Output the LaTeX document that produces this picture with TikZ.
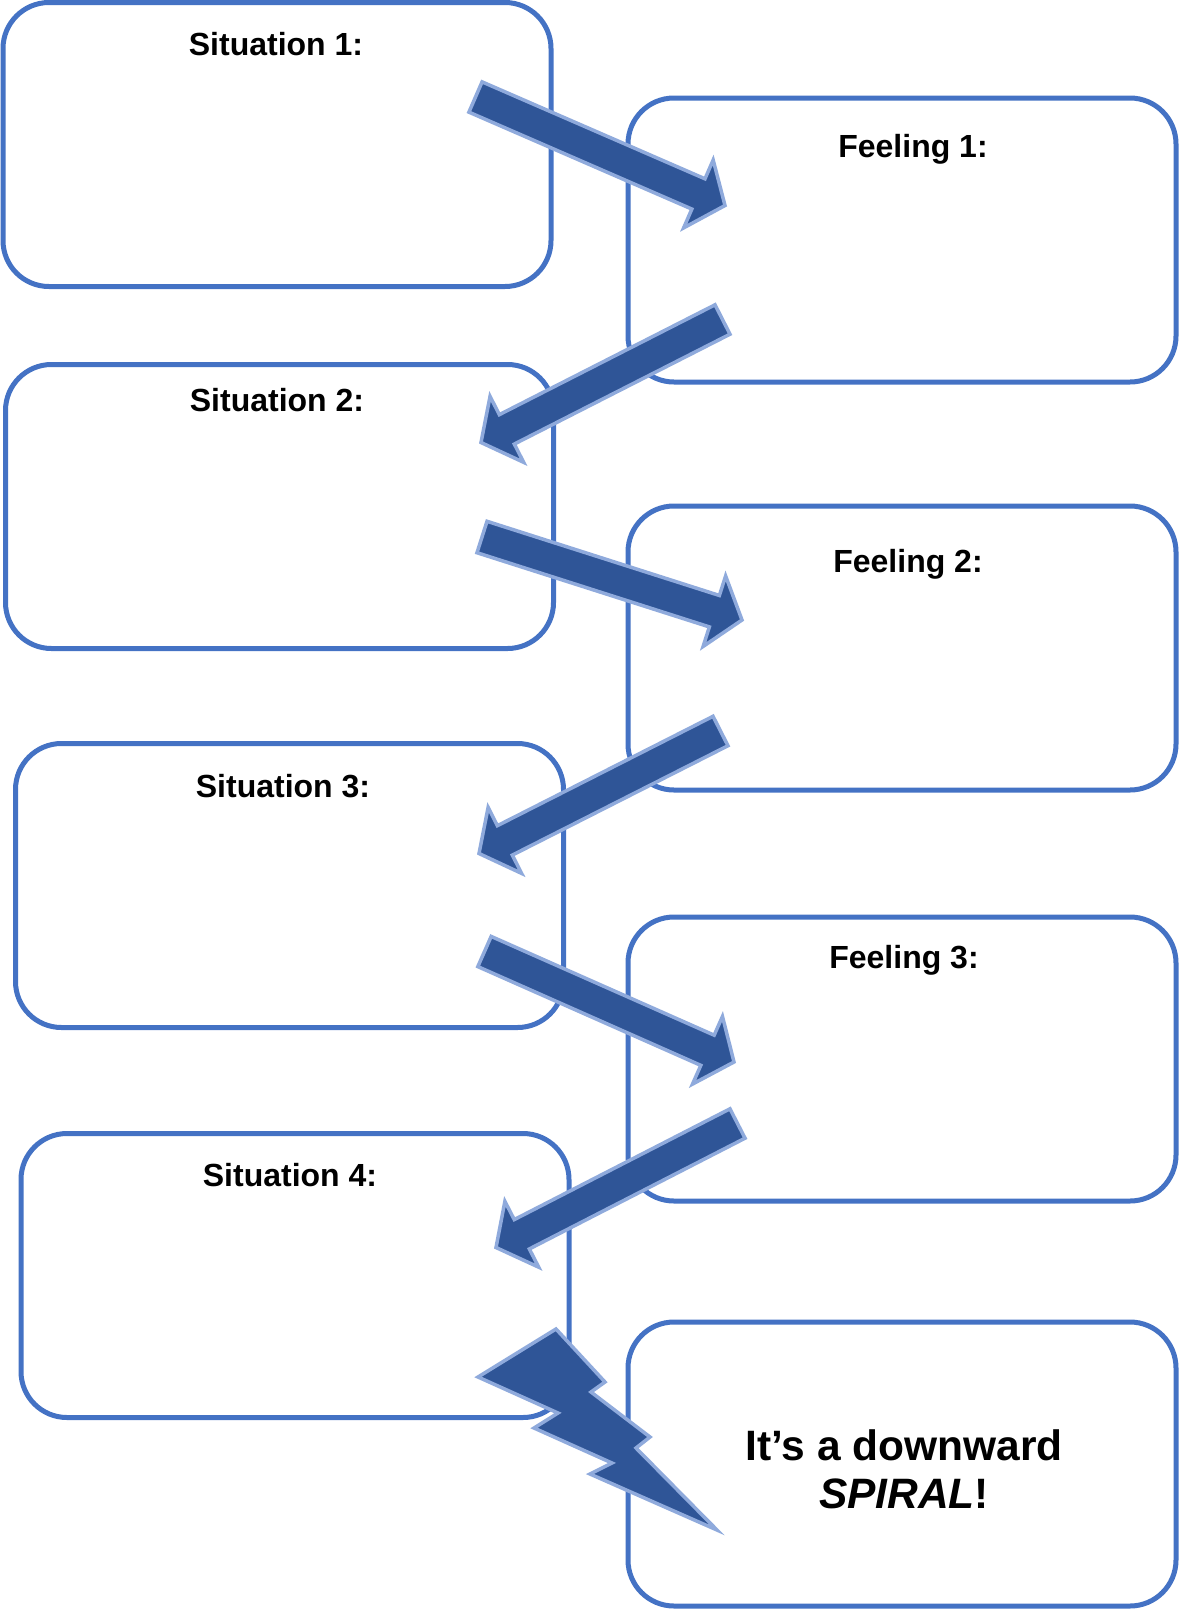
\documentclass[tikz,border=0pt]{standalone}
\usepackage{fontspec}
\setmainfont{Liberation Sans}
\usetikzlibrary{calc}

\definecolor{boxblue}{HTML}{4472C4}
\definecolor{arrowfill}{HTML}{2F5597}
\definecolor{arrowedge}{HTML}{8FAADC}

\tikzset{
  card/.style={draw=boxblue, line width=5pt, rounded corners=46pt,
    fill=white, minimum width=548pt, minimum height=284pt, inner sep=0pt},
  heading/.style={font=\fontsize{32}{38}\selectfont\bfseries, anchor=base, inner sep=0pt},
  closing/.style={font=\fontsize{42.5}{48}\selectfont\bfseries, align=center, inner sep=0pt},
  arrowshape/.style={fill=arrowfill, draw=arrowedge, line width=3.5pt, line join=miter},
}

% Block arrow from the middle of its tail (#1) to its tip (#2)
\newcommand\blockarrow[2]{%
  \coordinate (ba-base) at ($(#2)!29pt!(#1)$);
  \draw[arrowshape]
    ($(#1)!16.5pt!90:(#2)$) -- ($(ba-base)!16.5pt!90:(#2)$) --
    ($(ba-base)!37pt!90:(#2)$) -- (#2) --
    ($(ba-base)!37pt!-90:(#2)$) -- ($(ba-base)!16.5pt!-90:(#2)$) --
    ($(#1)!16.5pt!-90:(#2)$) -- cycle;
}

\begin{document}
\begin{tikzpicture}[x=1pt, y=-1pt]
  \useasboundingbox (0,0) rectangle (1180,1610);

  % Left column: situations
  \node[card] (s1) at (277,144.5) {};
  \node[card] (s2) at (279.5,506.5) {};
  \node[card] (s3) at (289.5,885.5) {};
  \node[card] (s4) at (295,1275.5) {};

  % Right column: feelings and the closing card
  \node[card] (f1) at (902,240) {};
  \node[card] (f2) at (902,648) {};
  \node[card] (f3) at (902,1059) {};
  \node[card] (end) at (902,1464) {};

  \node[heading] (s1t) at (276,55.5) {Situation 1:};
  \node[heading] (s2t) at (277,411) {Situation 2:};
  \node[heading] (s3t) at (283,797) {Situation 3:};
  \node[heading] (s4t) at (290,1186) {Situation 4:};
  \node[heading] (f1t) at (913,157) {Feeling 1:};
  \node[heading] (f2t) at (908,572) {Feeling 2:};
  \node[heading] (f3t) at (904,968) {Feeling 3:};
  \node[closing] (endt) at (904,1469) {It’s a downward\\\textit{SPIRAL}!};

  % Tail and tip points of the zig-zag arrows
  \coordinate (a1t) at (475.5,97);    \coordinate (a1h) at (725,205.5);
  \coordinate (a2t) at (722.5,319.5); \coordinate (a2h) at (481,442.5);
  \coordinate (a3t) at (482,537);     \coordinate (a3h) at (742,620);
  \coordinate (a4t) at (720.5,731);   \coordinate (a4h) at (479,853.5);
  \coordinate (a5t) at (484.5,951.5); \coordinate (a5h) at (734,1062);
  \coordinate (a6t) at (737.5,1123.5);\coordinate (a6h) at (496,1247.5);

  \blockarrow{a1t}{a1h}
  \blockarrow{a2t}{a2h}
  \blockarrow{a3t}{a3h}
  \blockarrow{a4t}{a4h}
  \blockarrow{a5t}{a5h}
  \blockarrow{a6t}{a6h}

  % Lightning bolt into the closing card
  \draw[arrowshape] (556,1329) -- (605,1382) -- (591,1392) -- (650,1437)
    -- (636,1448) -- (717,1530) -- (590,1474) -- (612,1463) -- (534,1428)
    -- (558,1413) -- (478,1377) -- cycle;
\end{tikzpicture}
\end{document}
